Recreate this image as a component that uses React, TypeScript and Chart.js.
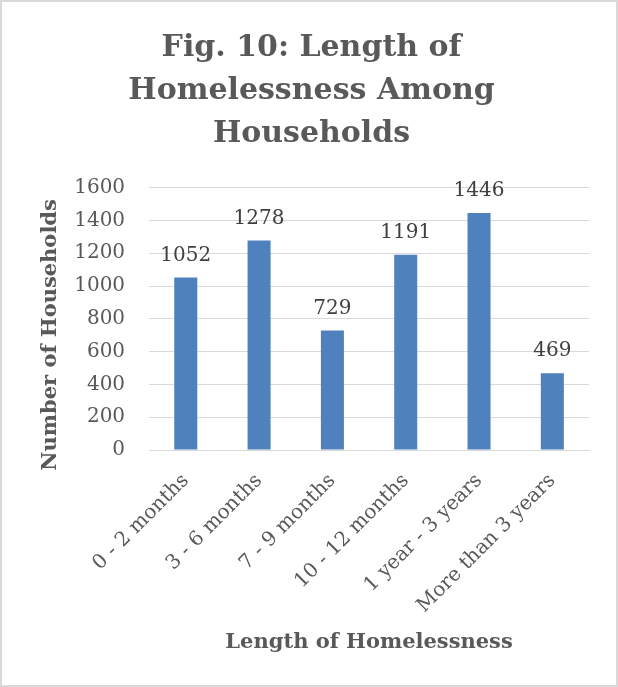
import React, { useEffect, useRef } from "react";
import { Chart, registerables } from "chart.js";

Chart.register(...registerables);

const categories = [
  "0 - 2 months",
  "3 - 6 months",
  "7 - 9 months",
  "10 - 12 months",
  "1 year - 3 years",
  "More than 3 years",
];
const households = [1052, 1278, 729, 1191, 1446, 469];
const titleLines = ["Fig. 10: Length of", "Homelessness Among", "Households"];
const yAxisTitle = "Number of Households";
const xAxisTitle = "Length of Homelessness";
const yMin = 0;
const yMax = 1600;
const yStep = 200;

const SERIF = "'DejaVu Serif', serif";
const Y_TICK_PADDING = 24;
const Y_TITLE_SHIFT = 16;

const dataLabelPlugin = {
  id: "barValueLabels",
  afterDatasetsDraw(chart: any) {
    const { ctx } = chart;
    const meta = chart.getDatasetMeta(0);
    const values = chart.data.datasets[0].data as number[];
    ctx.save();
    ctx.font = `20px ${SERIF}`;
    ctx.fillStyle = "#404040";
    ctx.textAlign = "center";
    ctx.textBaseline = "alphabetic";
    meta.data.forEach((bar: any, i: number) => {
      ctx.fillText(String(values[i]), bar.x, bar.y - 17);
    });
    ctx.restore();
  },
};

export default function App() {
  const canvasRef = useRef<HTMLCanvasElement | null>(null);

  useEffect(() => {
    document.body.style.margin = "0";
    const canvas = canvasRef.current;
    if (!canvas) return;
    const chart = new Chart(canvas, {
      type: "bar",
      data: {
        labels: categories,
        datasets: [
          {
            data: households,
            backgroundColor: "#4f81bd",
            borderWidth: 0,
            barPercentage: 0.314,
            categoryPercentage: 1,
          },
        ],
      },
      options: {
        animation: false,
        responsive: true,
        maintainAspectRatio: false,
        layout: { autoPadding: false, padding: { top: 0, right: 27, bottom: 24, left: 32 } },
        plugins: {
          legend: { display: false },
          tooltip: { enabled: false },
          title: {
            display: true,
            text: titleLines,
            color: "#595959",
            font: { family: SERIF, size: 30, weight: "bold", lineHeight: 1.43 },
            padding: { top: 25, bottom: 32 },
          },
        },
        scales: {
          x: {
            grid: { display: false },
            border: { display: true, color: "#d9d9d9" },
            ticks: {
              autoSkip: false,
              minRotation: 45,
              maxRotation: 45,
              padding: 11,
              color: "#595959",
              font: { family: SERIF, size: 20 },
            },
            title: {
              display: true,
              text: xAxisTitle,
              color: "#595959",
              font: { family: SERIF, size: 21, weight: "bold", lineHeight: 1.2 },
              padding: { top: 1, bottom: 6 },
            },
          },
          y: {
            min: yMin,
            max: yMax,
            afterFit: (scale: any) => {
              scale.width -= Y_TICK_PADDING;
              if (!scale.__titleShifted) {
                scale.__titleShifted = true;
                const orig = scale.drawTitle;
                scale.drawTitle = function (this: any, ...args: any[]) {
                  const ctx = this.ctx;
                  ctx.save();
                  ctx.translate(0, Y_TITLE_SHIFT);
                  orig.apply(this, args);
                  ctx.restore();
                };
              }
            },
            grid: { color: "#d9d9d9", lineWidth: 1, drawTicks: false },
            border: { display: false },
            ticks: {
              stepSize: yStep,
              padding: Y_TICK_PADDING,
              color: "#595959",
              font: { family: SERIF, size: 20 },
              callback: (value: any) => String(value),
            },
            title: {
              display: true,
              text: yAxisTitle,
              color: "#595959",
              font: { family: SERIF, size: 21, weight: "bold", lineHeight: 1.2 },
              padding: { top: 4, bottom: 11 },
            },
          },
        },
      },
      plugins: [dataLabelPlugin],
    });
    return () => chart.destroy();
  }, []);

  return (
    <div
      style={{
        width: 618,
        height: 687,
        boxSizing: "border-box",
        border: "2px solid #d9d9d9",
        background: "#ffffff",
        position: "relative",
      }}
    >
      <canvas ref={canvasRef} />
    </div>
  );
}
